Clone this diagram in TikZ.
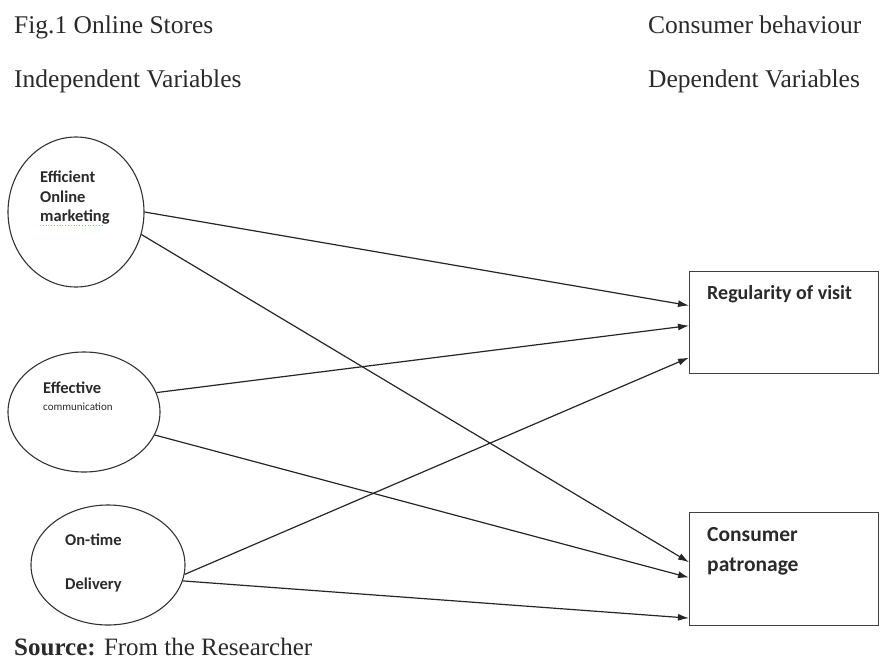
\documentclass[tikz,border=0pt]{standalone}
\usepackage{fontspec}
\setmainfont{Liberation Serif}
\newfontfamily\lblfont{Carlito}
\usetikzlibrary{shapes.geometric,arrows.meta,calc}
\definecolor{txt}{HTML}{2A2A2A}
\definecolor{spell}{HTML}{8CC88C}
\tikzset{
  hdr/.style={anchor=base west,inner sep=0pt,text=txt,font=\fontsize{25.5}{30}\selectfont},
  var/.style={ellipse,draw=black!80,line width=1.1pt,inner sep=0pt},
  dep/.style={rectangle,draw=black!75,line width=1.1pt,inner sep=0pt},
  lbl/.style={anchor=base west,inner sep=0pt,text=txt,font=\lblfont\bfseries\fontsize{16.5}{19}\selectfont},
  conn/.style={line width=1.2pt,draw=black!85,-{Latex[length=11pt,width=7pt]}}
}
\begin{document}
\begin{tikzpicture}[x=1pt,y=-1pt]
\useasboundingbox (0,0) rectangle (880,664);
% headers
\node[hdr] (fig) at (14,33) {Fig.1 Online Stores};
\node[hdr] (cb) at (648,33) {Consumer behaviour};
\node[hdr] (iv) at (14,87) {Independent Variables};
\node[hdr] (dv) at (648,87) {Dependent Variables};
\node[hdr,font=\fontsize{25}{30}\selectfont] (src) at (14,655) {\textbf{Source:} From the Researcher};
% independent variables
\node[var,minimum width=136pt,minimum height=150pt] (eom) at (76,212) {};
\node[var,minimum width=152pt,minimum height=120pt] (ec) at (84,412) {};
\node[var,minimum width=154pt,minimum height=120pt] (otd) at (108,565) {};
\node[lbl] (t1) at (40,182) {Efficient};
\node[lbl] (t2) at (40,202) {Online};
\node[lbl] (t3) at (40,221) {marketing};
\draw[spell,line width=0.8pt,dotted] (t3.base west)++(0,4) -- ++(62,0);
\node[lbl] (t4) at (43,393) {Effective};
\node[lbl,font=\lblfont\fontsize{11}{13}\selectfont] (t5) at (43,410) {communication};
\node[lbl] (t6) at (65,545) {On-time};
\node[lbl] (t7) at (65,589) {Delivery};
% dependent variables
\node[dep,anchor=north west,minimum width=189pt,minimum height=102pt] (reg) at (689,271) {};
\node[dep,anchor=north west,minimum width=189pt,minimum height=113pt] (pat) at (689,512) {};
\node[lbl,font=\lblfont\bfseries\fontsize{20}{24}\selectfont] (rt) at (707,299) {Regularity of visit};
\node[lbl,font=\lblfont\bfseries\fontsize{21.5}{26}\selectfont] (pt1) at (707,541) {Consumer};
\node[lbl,font=\lblfont\bfseries\fontsize{21.5}{26}\selectfont] (pt2) at (707,571) {patronage};
% connectors
\draw[conn] (eom.east) -- ($(reg.north west)!0.335!(reg.south west)$);
\draw[conn] (eom.-19) -- ($(pat.north west)!0.44!(pat.south west)$);
\draw[conn] (ec.15) -- ($(reg.north west)!0.53!(reg.south west)$);
\draw[conn] (ec.-18) -- ($(pat.north west)!0.575!(pat.south west)$);
\draw[conn] (otd.-7) -- ($(reg.north west)!0.84!(reg.south west)$);
\draw[conn] (otd.-12) -- ($(pat.north west)!0.93!(pat.south west)$);
\end{tikzpicture}
\end{document}
